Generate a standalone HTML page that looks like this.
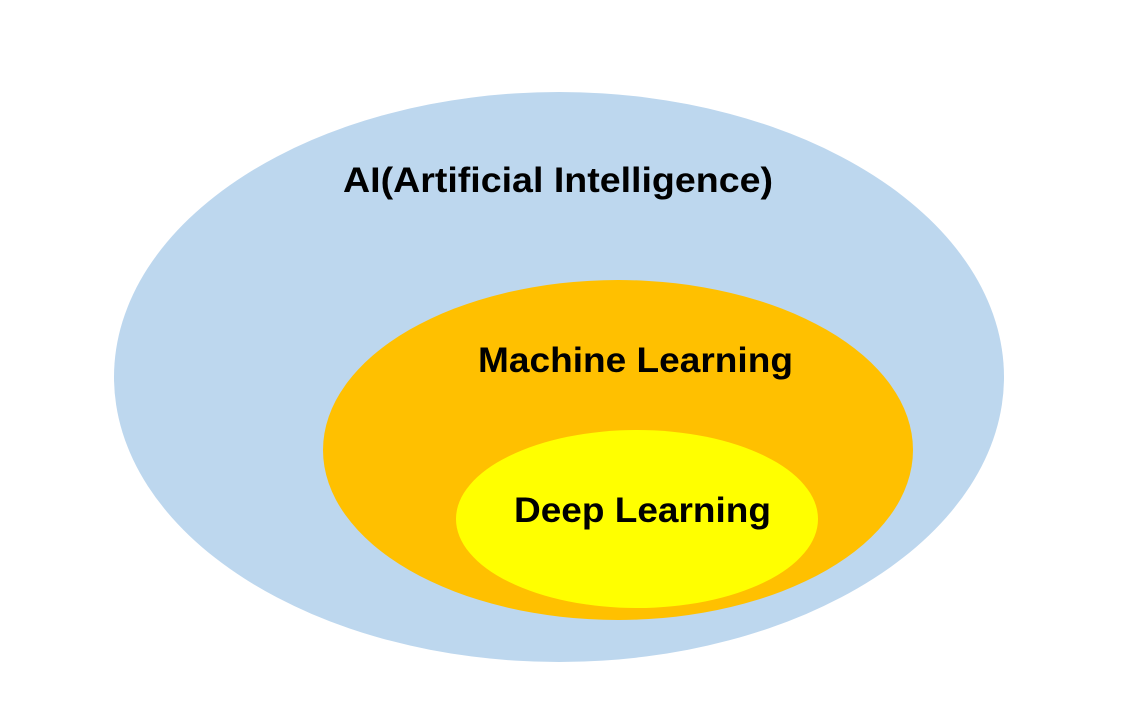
<!DOCTYPE html>
<html>
<head>
<meta charset="utf-8">
<style>
html,body{margin:0;padding:0;background:#fff;}
svg{display:block;}
text{font-family:"Liberation Sans","Noto Sans CJK KR",sans-serif;font-weight:bold;fill:#000;}
</style>
</head>
<body>
<svg width="1142" height="727" viewBox="0 0 1142 727" xmlns="http://www.w3.org/2000/svg">
<rect width="1142" height="727" fill="#fff"/>
<ellipse cx="559" cy="377" rx="445" ry="285" fill="#BDD7EE"/>
<ellipse cx="618" cy="450" rx="295" ry="170" fill="#FFC000"/>
<ellipse cx="637" cy="519" rx="181" ry="89" fill="#FFFF00"/>
<text x="343" y="192" font-size="35" textLength="430" lengthAdjust="spacingAndGlyphs">AI(Artificial Intelligence)</text>
<text x="478" y="372" font-size="35" textLength="315" lengthAdjust="spacingAndGlyphs">Machine Learning</text>
<text x="514" y="522" font-size="35" textLength="257" lengthAdjust="spacingAndGlyphs">Deep Learning</text>
</svg>
</body>
</html>
